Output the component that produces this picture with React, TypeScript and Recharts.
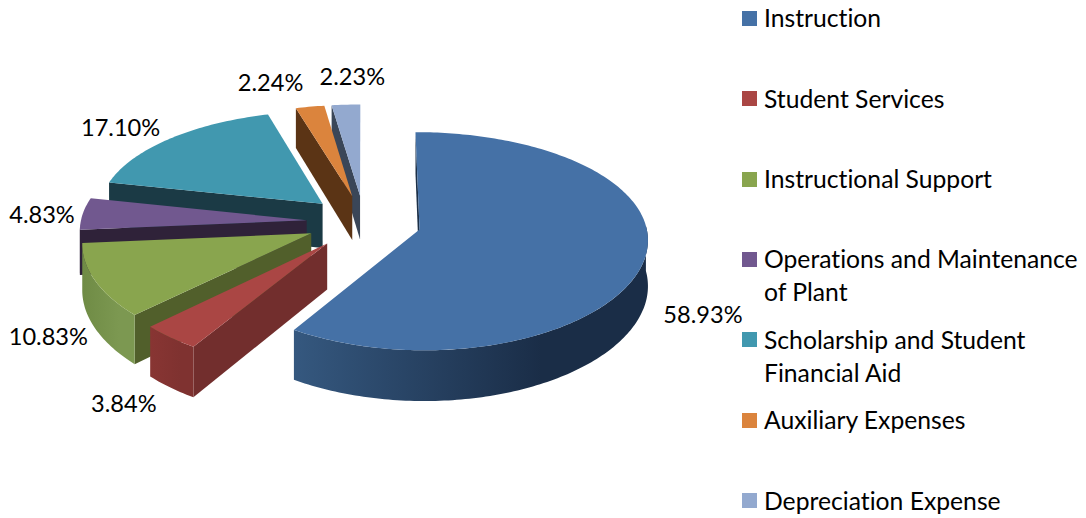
import { Legend, Pie, PieChart } from "recharts"

const categories = [
  "Instruction",
  "Student Services",
  "Instructional Support",
  "Operations and Maintenance of Plant",
  "Scholarship and Student Financial Aid",
  "Auxiliary Expenses",
  "Depreciation Expense",
]
const shares = [58.93, 3.84, 10.83, 4.83, 17.1, 2.24, 2.23]
const topColors = ["#4571a6", "#aa4644", "#89a54e", "#71588f", "#4198af", "#db843d", "#93a9cf"]
const edgeColors = ["#1c3048", "#722e2d", "#515f2b", "#2f2239", "#1b3a45", "#5b3415", "#3a4658"]
const wallLeft = ["#35587f", "#883533", "#6f8b45", "#2f2239", "#1b3a45", "#5b3415", "#3a4658"]
const wallRight = ["#1a2d47", "#7f3230", "#7c9851", "#2f2239", "#1b3a45", "#5b3415", "#3a4658"]
// small hand adjustments, the labels in the original were not placed by one rule
const labelShiftX = [2, -7, 8, 16, -10.5, -28.5, 10]
const labelShiftY = [3, 1, 1, 1, -4, -14, -18]

// the pie paints in data order, so the back slices go first
const rows = categories
  .map((name, i) => ({ name, value: shares[i], index: i }))
  .reverse()

const CX = 364
const CY = 222
const RADIUS = 226
const EXPLODE = 57.5
const TILT = 0.47
const PERSPECTIVE = 0.00047
const PERSPECTIVE_X = 0.00035
const DEPTH = 45
const FONT = "Lato, 'Open Sans', sans-serif"

const rad = (deg: number) => (deg * Math.PI) / 180

// u goes right and v goes away from the viewer, both on the plane of the pie
function project(u: number, v: number, drop = 0) {
  const s = 1 / (1 + PERSPECTIVE * v)
  const sx = 1 / (1 + PERSPECTIVE_X * v)
  return { x: CX + u * sx, y: CY - v * TILT * s + drop * s }
}

function clockwiseRange(startAngle: number, endAngle: number) {
  let from = 90 - Math.max(startAngle, endAngle)
  let to = 90 - Math.min(startAngle, endAngle)
  while (from < 0) {
    from += 360
    to += 360
  }
  return [from, to]
}

function toPath(points: { x: number; y: number }[]) {
  return points.map((p, i) => `${i ? "L" : "M"}${p.x.toFixed(2)} ${p.y.toFixed(2)}`).join(" ") + " Z"
}

function Slice3D(props: any) {
  const index = props.payload?.index ?? props.index
  const [from, to] = clockwiseRange(props.startAngle, props.endAngle)
  const mid = (from + to) / 2
  const ou = EXPLODE * Math.sin(rad(mid))
  const ov = EXPLODE * Math.cos(rad(mid))
  const rim = (deg: number, drop = 0) =>
    project(ou + props.outerRadius * Math.sin(rad(deg)), ov + props.outerRadius * Math.cos(rad(deg)), drop)
  const apex = (drop = 0) => project(ou, ov, drop)
  const sweep = (a: number, b: number, drop = 0) => {
    const out = []
    const steps = Math.max(1, Math.ceil(b - a))
    for (let i = 0; i <= steps; i++) out.push(rim(a + ((b - a) * i) / steps, drop))
    return out
  }
  const radialWall = (deg: number) => toPath([apex(), rim(deg), rim(deg, DEPTH), apex(DEPTH)])
  const startVisible = Math.sin(rad(from)) < 0.02
  const endVisible = Math.sin(rad(to)) > 0.02
  const arcFrom = Math.max(from, 88)
  const arcTo = Math.min(to, 268)
  const gradientId = `wall-${index}`
  return (
    <g>
      <defs>
        <linearGradient id={gradientId} x1="0" y1="0" x2="1" y2="0">
          <stop offset="0" stopColor={wallLeft[index]} />
          <stop offset="0.7" stopColor={wallRight[index]} />
        </linearGradient>
      </defs>
      {startVisible && <path d={radialWall(from)} fill={edgeColors[index]} />}
      {endVisible && <path d={radialWall(to)} fill={edgeColors[index]} />}
      {arcTo > arcFrom && (
        <path
          d={toPath([...sweep(arcFrom, arcTo), ...sweep(arcFrom, arcTo, DEPTH).reverse()])}
          fill={`url(#${gradientId})`}
        />
      )}
      <path d={toPath([apex(), ...sweep(from, to)])} fill={topColors[index]} />
    </g>
  )
}

function SliceLabel(props: any) {
  const [from, to] = clockwiseRange(props.startAngle, props.endAngle)
  const mid = (from + to) / 2
  const sin = Math.sin(rad(mid))
  const cos = Math.cos(rad(mid))
  const reach = EXPLODE + RADIUS * 1.13
  const front = cos < 0 ? DEPTH : 0
  const p = project(reach * sin, reach * cos, front)
  const index = props.payload?.index ?? rows[props.index].index
  return (
    <text
      x={p.x + sin * 28 + labelShiftX[index]}
      y={p.y + labelShiftY[index]}
      textAnchor="middle"
      dominantBaseline="central"
      fontFamily={FONT}
      fontSize={23.6}
      fill="#000"
    >
      {`${props.value.toFixed(2)}%`}
    </text>
  )
}

function KeyList() {
  return (
    <div
      style={{
        position: "relative",
        width: 344,
        height: 518,
        fontFamily: FONT,
        fontSize: 24.7,
        fontVariantLigatures: "none",
        color: "#000",
      }}
    >
      {categories.map((name, i) => (
        <div key={name} style={{ position: "absolute", left: 0, top: 1.2 + i * 80.4, width: 344, display: "flex" }}>
          <span style={{ width: 15, height: 15, marginTop: 9.5, marginRight: 7, flex: "none", background: topColors[i] }} />
          <span style={{ lineHeight: "33px", width: 322 }}>{name}</span>
        </div>
      ))}
    </div>
  )
}

export default function App() {
  return (
    <div style={{ position: "absolute", left: 0, top: 0, width: 1086, height: 518, background: "#fff" }}>
      <PieChart width={1086} height={518} margin={{ top: 0, right: 0, bottom: 0, left: 0 }}>
        <Pie
          data={rows}
          dataKey="value"
          nameKey="name"
          cx={CX}
          cy={CY}
          innerRadius={0}
          outerRadius={RADIUS}
          startAngle={90}
          endAngle={450}
          paddingAngle={0}
          stroke="none"
          shape={Slice3D}
          inactiveShape={Slice3D}
          label={SliceLabel}
          labelLine={false}
          isAnimationActive={false}
        />
        <Legend
          content={() => <KeyList />}
          wrapperStyle={{ position: "absolute", left: 742, top: 0, width: 344, height: 518 }}
        />
      </PieChart>
    </div>
  )
}
